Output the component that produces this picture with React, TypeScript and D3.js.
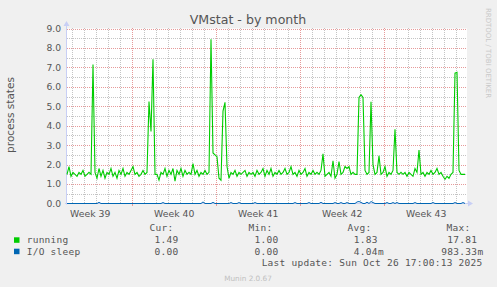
import React from "react";
import * as d3 from "d3";

// ---- data ----
const startTime = new Date(2025, 8, 23, 13, 30);
const endTime = new Date(2025, 9, 26, 21, 30);
const stepHours = 4;

const running: number[] = [
  1.5, 1.9, 1.4, 1.6, 1.5, 1.4, 1.6, 1.5, 1.7, 1.4, 1.5, 1.6, 1.5, 7.15, 1.6, 1.3, 1.8, 1.4, 1.7, 1.3,
  1.6, 1.5, 1.8, 1.4, 1.6, 1.3, 1.7, 1.5, 1.8, 1.4, 1.6, 1.5, 1.7, 1.9, 1.5, 1.6, 1.4, 1.5, 1.7, 1.5,
  1.6, 5.25, 3.7, 7.42, 1.5, 1.5, 1.2, 1.6, 1.5, 1.8, 1.4, 1.7, 1.5, 1.8, 1.15, 1.7, 1.5, 1.8, 1.4, 1.7,
  1.5, 1.6, 1.5, 2.05, 1.5, 1.7, 1.4, 1.6, 1.5, 1.7, 1.5, 1.6, 8.45, 2.6, 2.5, 2.4, 1.3, 1.2, 4.75, 5.2,
  1.9, 1.3, 1.6, 1.5, 1.7, 1.4, 1.6, 1.5, 1.6, 1.7, 1.4, 1.6, 1.5, 1.6, 1.4, 1.7, 1.5, 1.6, 1.8, 1.4,
  1.7, 1.5, 1.8, 1.4, 1.6, 1.5, 1.7, 1.5, 1.6, 1.8, 1.5, 1.6, 1.9, 1.5, 1.6, 1.4, 1.7, 1.5, 1.6, 1.8,
  1.4, 1.6, 1.5, 1.7, 1.5, 1.6, 1.5, 1.7, 2.55, 1.4, 1.5, 1.6, 1.4, 2.2, 1.3, 1.5, 2.15, 1.5, 1.6, 1.9,
  1.8, 1.9, 1.5, 1.6, 1.5, 1.5, 5.45, 5.6, 5.45, 1.7, 1.5, 1.6, 5.23, 2.0, 1.5, 1.6, 2.45, 1.5, 1.6, 1.9,
  1.4, 1.6, 1.5, 1.7, 3.82, 1.6, 1.5, 1.6, 1.5, 1.6, 1.4, 1.6, 1.5, 1.4, 1.8, 1.6, 2.75, 1.5, 1.6, 1.4,
  1.6, 1.5, 1.7, 1.5, 1.6, 1.8, 1.5, 1.6, 1.4, 1.25, 1.4, 1.3, 1.5, 1.6, 6.7, 6.75, 1.7, 1.5, 1.5, 1.5,
];

const ioSleepBlips: [number, number][] = [
  [16, 0.06], [48, 0.05], [68, 0.08], [73, 0.06], [82, 0.05], [86, 0.05], [94, 0.05],
  [114, 0.05], [121, 0.05], [127, 0.06], [134, 0.05], [137, 0.05], [140, 0.05],
  [145, 0.08], [146, 0.1], [147, 0.06], [150, 0.07], [152, 0.1], [153, 0.05],
  [160, 0.05], [163, 0.05], [165, 0.05], [174, 0.05], [183, 0.05], [194, 0.05], [198, 0.05],
];
const ioSleep: number[] = running.map((_, i) => {
  const b = ioSleepBlips.find((d) => d[0] === i);
  return b ? b[1] : 0;
});

const yTicks = [0, 1, 2, 3, 4, 5, 6, 7, 8, 9];
const weekStarts = [
  new Date(2025, 8, 22), new Date(2025, 8, 29), new Date(2025, 9, 6),
  new Date(2025, 9, 13), new Date(2025, 9, 20),
];
const weekLabels = ["Week 39", "Week 40", "Week 41", "Week 42", "Week 43"];

const legendNames = ["running", "I/O sleep"];
const legendColors = ["#00cc00", "#0066b3"];
const curVals = ["1.49", "0.00"];
const minVals = ["1.00", "0.00"];
const avgVals = ["1.83", "4.04m"];
const maxVals = ["17.81", "983.33m"];

const W = 497;
const H = 287;
const L = 67;
const R = 467;
const T = 28.5;
const B = 203.5;

const SANS = "'DejaVu Sans', sans-serif";
const MONO = "'DejaVu Sans Mono', monospace";

function splitUnit(s: string): [string, string] {
  const m = s.match(/^([\d.]+)(\D*)$/);
  return m ? [m[1], m[2]] : [s, ""];
}

export default function App() {
  const x = d3.scaleTime().domain([startTime, endTime]).range([L, R]);
  const y = d3.scaleLinear().domain([0, 9]).range([B, T]);
  const tAt = (i: number) => new Date(startTime.getTime() + i * stepHours * 3600 * 1000);

  const line = d3
    .line<number>()
    .x((_, i) => x(tAt(i)))
    .y((d) => y(d))
    .curve(d3.curveLinear);

  const days = d3.timeDay.range(startTime, endTime);
  const halfTicks = d3.range(0.5, 9, 1);

  const minorColor = "#c4c4c4";
  const majorColor = "#e69a9a";
  const axisColor = "#c8cff5";
  const gTop = 28;
  const gBot = 203;

  const cols = [
    { head: "Cur:", headX: 173.5, numX: 178.5, vals: curVals },
    { head: "Min:", headX: 272.5, numX: 278.5, vals: minVals },
    { head: "Avg:", headX: 371.5, numX: 377.7, vals: avgVals },
    { head: "Max:", headX: 470.5, numX: 477.2, vals: maxVals },
  ];
  const rowY = [243.3, 254.7];
  const px = (v: number) => Math.round(v) + 0.5;

  return (
    <svg
      width={W}
      height={H}
      style={{ position: "absolute", left: 0, top: 0, display: "block" }}
    >
      <rect x={0} y={0} width={W} height={H} fill="#f0f0f0" />
      <rect x={L} y={T} width={R - L} height={B - T} fill="#ffffff" />

      {/* minor grid */}
      {halfTicks.map((v) => (
        <line key={"hm" + v} x1={L} x2={R} y1={px(y(v))} y2={px(y(v))}
          stroke={minorColor} strokeDasharray="1 1" />
      ))}
      {days.map((d) => (
        <line key={"dm" + d.getTime()} x1={px(x(d))} x2={px(x(d))}
          y1={gTop} y2={gBot} stroke={minorColor} strokeDasharray="1 1" />
      ))}
      {/* major grid */}
      {yTicks.filter((v) => v > 0).map((v) => (
        <line key={"hM" + v} x1={L} x2={R} y1={px(y(v))} y2={px(y(v))}
          stroke={majorColor} strokeDasharray="1 1" />
      ))}
      {weekStarts.filter((d) => x(d) > L && x(d) < R).map((d) => (
        <g key={"wM" + d.getTime()}>
          <line x1={px(x(d))} x2={px(x(d))} y1={gTop} y2={gBot}
            stroke={majorColor} strokeDasharray="1 1" />
          <line x1={px(x(d))} x2={px(x(d))} y1={gBot} y2={gBot + 3}
            stroke={majorColor} />
        </g>
      ))}

      {/* axes */}
      <line x1={L - 0.5} x2={L - 0.5} y1={B + 1} y2={23} stroke={axisColor} />
      <path d={`M${L - 3.5},26 L${L - 0.5},21 L${L + 2.5},26 Z`} fill={axisColor} />
      <line x1={L - 2} x2={R + 2} y1={B} y2={B} stroke={axisColor} />
      <path d={`M${R + 1},${B - 3} L${R + 6},${B} L${R + 1},${B + 3} Z`} fill={axisColor} />

      {/* series */}
      <path d={line(ioSleep) || ""} fill="none" stroke="#0066b3" strokeWidth={1} />
      <path d={line(running) || ""} fill="none" stroke="#00cc00" strokeWidth={1.1} />

      {/* y tick labels */}
      {yTicks.map((v) => (
        <text key={"yl" + v} x={61} y={y(v) + 3.4} textAnchor="end" fontFamily={SANS}
          fontSize={9.2} fill="#555">{v.toFixed(1)}</text>
      ))}
      {/* x labels */}
      {weekStarts.map((d, i) => {
        const mid = new Date(d.getTime() + 3.5 * 86400000);
        return (
          <text key={"xl" + i} x={x(mid)} y={216.5} textAnchor="middle" fontFamily={SANS}
            fontSize={9.3} fill="#555">{weekLabels[i]}</text>
        );
      })}

      {/* title */}
      <text x={248} y={24} textAnchor="middle" fontFamily={SANS} fontSize={12.6} fill="#555">
        VMstat - by month
      </text>
      {/* y axis label */}
      <text transform="translate(14,115) rotate(-90)" textAnchor="middle" fontFamily={SANS}
        fontSize={10.5} fill="#555">process states</text>
      {/* rrdtool watermark */}
      <text transform="translate(486,53) rotate(90)" textAnchor="middle" fontFamily={SANS}
        fontSize={7} fill="#c8c8c8">RRDTOOL / TOBI OETIKER</text>

      {/* legend */}
      {cols.map((c) => (
        <text key={c.head} x={c.headX} y={231} textAnchor="end" fontFamily={MONO} fontSize={9.5}
          letterSpacing={0.25} fill="#555">{c.head}</text>
      ))}
      {legendNames.map((n, r) => (
        <g key={n}>
          <rect x={14} y={rowY[r] - 6} width={5.5} height={5.5} fill={legendColors[r]} />
          <text x={26.7} y={rowY[r]} fontFamily={MONO} fontSize={9.5} letterSpacing={0.25}
            fill="#555">{n}</text>
          {cols.map((c) => {
            const [num, unit] = splitUnit(c.vals[r]);
            return (
              <g key={c.head}>
                <text x={c.numX} y={rowY[r]} textAnchor="end" fontFamily={MONO} fontSize={9.5}
                  letterSpacing={0.25} fill="#555">{num}</text>
                {unit && (
                  <text x={c.numX + 0.3} y={rowY[r]} fontFamily={MONO} fontSize={9.5}
                    letterSpacing={0.25} fill="#555">{unit}</text>
                )}
              </g>
            );
          })}
        </g>
      ))}
      <text x={482.5} y={266.3} textAnchor="end" fontFamily={MONO} fontSize={9.5}
        letterSpacing={0.25} fill="#555">Last update: Sun Oct 26 17:00:13 2025</text>
      <text x={248} y={281} textAnchor="middle" fontFamily={SANS} fontSize={7.3} fill="#c0c0c0">
        Munin 2.0.67
      </text>
    </svg>
  );
}
